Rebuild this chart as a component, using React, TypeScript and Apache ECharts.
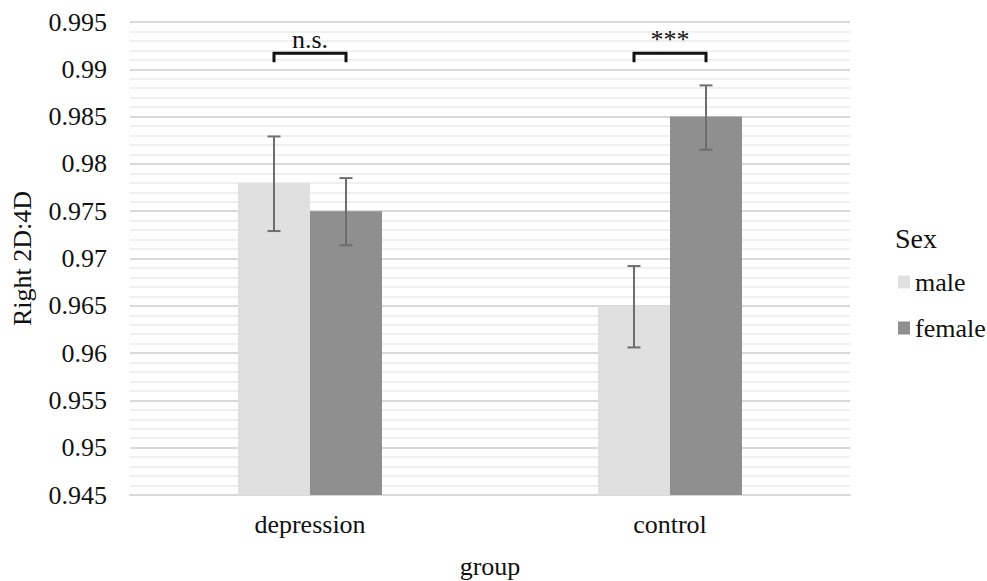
import React, { useEffect, useRef } from "react";
import * as echarts from "echarts";

const categories = ["depression", "control"];
const maleValues = [0.978, 0.965];
const femaleValues = [0.975, 0.985];
const maleErrLow = [0.9729, 0.9606];
const maleErrHigh = [0.9829, 0.9692];
const femaleErrLow = [0.9714, 0.9815];
const femaleErrHigh = [0.9785, 0.9883];
const bracketLabels = ["n.s.", "***"];
const bracketLevels = [0.9917, 0.9917];

const FONT = "'Liberation Serif', 'Times New Roman', serif";

export default function App() {
  const ref = useRef<HTMLDivElement>(null);
  useEffect(() => {
    if (!ref.current) return;
    const chart = echarts.init(ref.current, null, { renderer: "svg" });

    const errRender = (offsetFrac: number) => (params: any, api: any) => {
      const cat = api.value(0);
      const lo = api.coord([cat, api.value(1)]);
      const hi = api.coord([cat, api.value(2)]);
      const bw = api.size([1, 0])[0];
      const x = lo[0] + offsetFrac * bw;
      const cap = 6.5;
      const style = { stroke: "#6e6e6e", lineWidth: 2 };
      return {
        type: "group",
        children: [
          { type: "line", shape: { x1: x, y1: hi[1], x2: x, y2: lo[1] }, style },
          { type: "line", shape: { x1: x - cap, y1: hi[1], x2: x + cap, y2: hi[1] }, style },
          { type: "line", shape: { x1: x - cap, y1: lo[1], x2: x + cap, y2: lo[1] }, style },
        ],
      };
    };

    const bracketRender = (params: any, api: any) => {
      const cat = api.value(0);
      const p = api.coord([cat, api.value(1)]);
      const bw = api.size([1, 0])[0];
      const lx = p[0] - 0.1 * bw;
      const rx = p[0] + 0.1 * bw;
      const y = p[1];
      return {
        type: "group",
        children: [
          {
            type: "polyline",
            shape: { points: [[lx, y + 9], [lx, y], [rx, y], [rx, y + 9]] },
            style: { stroke: "#111", lineWidth: 3, fill: "none" },
          },
          {
            type: "text",
            x: p[0],
            y: y - 1,
            style: {
              text: bracketLabels[params.dataIndex],
              fontFamily: FONT,
              fontSize: 26,
              fill: "#111",
              align: "center",
              verticalAlign: "bottom",
            },
          },
        ],
      };
    };

    const txt = { fontFamily: FONT, fontSize: 26, color: "#111" };

    chart.setOption({
      animation: false,
      backgroundColor: "#fff",
      textStyle: { fontFamily: FONT },
      grid: {
        left: 130,
        right: 137,
        top: 22,
        bottom: 86,
        containLabel: false,
        outerBoundsMode: "none",
      },
      legend: [
        {
          data: ["male"],
          left: 893,
          top: 264,
          icon: "rect",
          itemWidth: 12,
          itemHeight: 13,
          itemGap: 8,
          textStyle: txt,
        },
        {
          data: ["female"],
          left: 893,
          top: 310,
          icon: "rect",
          itemWidth: 12,
          itemHeight: 13,
          itemGap: 8,
          textStyle: txt,
        },
      ],
      graphic: [
        {
          type: "text",
          left: 895,
          top: 224,
          style: { text: "Sex", fontFamily: FONT, fontSize: 28, fill: "#111" },
        },
      ],
      xAxis: {
        type: "category",
        data: categories,
        name: "group",
        nameLocation: "middle",
        nameGap: 58,
        nameTextStyle: txt,
        axisLine: { show: true, lineStyle: { color: "#d9d9d9", width: 2 } },
        axisTick: { show: false },
        axisLabel: { ...txt, margin: 16 },
      },
      yAxis: {
        type: "value",
        min: 0.945,
        max: 0.995,
        interval: 0.005,
        name: "Right 2D:4D",
        nameLocation: "middle",
        nameGap: 95,
        nameTextStyle: txt,
        axisLine: { show: false },
        axisTick: { show: false },
        axisLabel: {
          ...txt,
          margin: 23,
          formatter: (v: number) => String(+v.toFixed(3)),
        },
        splitLine: { show: true, lineStyle: { color: "#d9d9d9", width: 2 } },
        minorTick: { show: false, splitNumber: 5 },
        minorSplitLine: { show: true, lineStyle: { color: "#f0f0f0", width: 2 } },
      },
      series: [
        {
          name: "male",
          type: "bar",
          data: maleValues,
          barWidth: 72,
          barGap: "0%",
          itemStyle: { color: "#e0e0e0" },
        },
        {
          name: "female",
          type: "bar",
          data: femaleValues,
          barWidth: 72,
          barGap: "0%",
          itemStyle: { color: "#8f8f8f" },
        },
        {
          name: "maleErr",
          type: "custom",
          renderItem: errRender(-0.1),
          data: categories.map((_, i) => [i, maleErrLow[i], maleErrHigh[i]]),
          encode: { x: 0, y: [1, 2] },
          z: 10,
          silent: true,
        },
        {
          name: "femaleErr",
          type: "custom",
          renderItem: errRender(0.1),
          data: categories.map((_, i) => [i, femaleErrLow[i], femaleErrHigh[i]]),
          encode: { x: 0, y: [1, 2] },
          z: 10,
          silent: true,
        },
        {
          name: "brackets",
          type: "custom",
          renderItem: bracketRender,
          data: categories.map((_, i) => [i, bracketLevels[i]]),
          encode: { x: 0, y: 1 },
          z: 10,
          silent: true,
        },
      ],
    });
    return () => chart.dispose();
  }, []);
  return <div ref={ref} style={{ width: 987, height: 581, position: "absolute", left: 0, top: 0 }} />;
}
